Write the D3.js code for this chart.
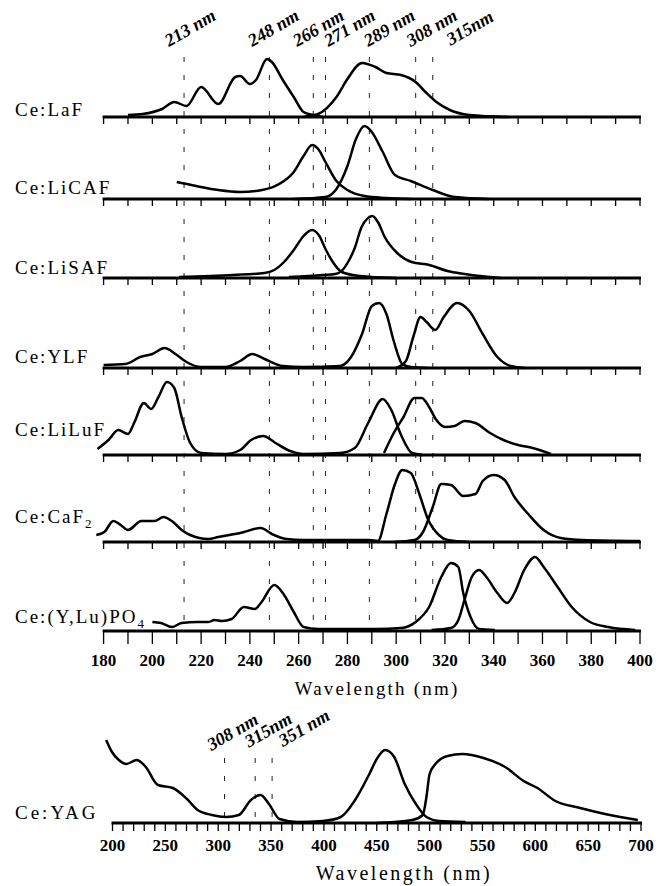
<!DOCTYPE html>
<html>
<head>
<meta charset="utf-8">
<script src="https://cdn.jsdelivr.net/npm/d3@7"></script>
<style>
  body { margin: 0; background: #fff; }
  text { font-family: "Liberation Serif", "Times New Roman", serif; fill: #000; }
</style>
</head>
<body>
<div id="chart"></div>
<script>
// ---- data: [wavelength nm, intensity a.u.] ----
const lafAbs = [[190,2],[196,3],[204,8],[209,15],[214,11],[220,30],[227,13],[234,40],[236,41],[240,33],[242.5,37],[247,58],[249,55],[253.5,37],[258,20],[262,5],[266,2],[270,0]];
const lafEm = [[262,0],[264,1],[268,3],[275.5,20],[280,38],[286,54],[291.5,50],[296,44],[302,42],[308,35],[312,25],[316.5,15],[322,7],[330,2],[346,0]];

const licafAbs = [[210,17],[218,13],[227,9],[236,7],[245,9],[252,15],[258,27],[262,43],[265.5,54],[268,50],[271,37],[275.5,18],[280,9],[287,3],[296,1],[306,0]];
const licafEm = [[258,0],[271,2],[275.5,10],[280,33],[283.5,60],[287,73],[290,67],[294.5,47],[299.5,24],[306,18],[315,9],[324,2],[338,0]];

const lisafAbs = [[211,1],[233,3],[246,5],[250,8],[254,16],[258,28],[262,42],[265.5,48],[268.5,42],[271,29],[274,16],[277.7,6],[285,2],[300,0]];
const lisafEm = [[256,1],[270,3],[275,4],[278,8],[280.5,17],[283,30],[285.8,51],[288,59],[290.2,62],[292.5,56],[295.3,41],[300.4,25],[306.3,16],[313.6,13],[321,7],[328,4],[343,0]];

const ylfAbs = [[180,3],[189,4],[195,11],[200,14],[205,20],[209.5,14],[214,6],[220,1],[230,1],[236,7],[241,14],[246,9],[253.5,2],[262,1],[277,2],[281.5,11],[286,34],[290,62],[293,65],[296,54],[299,27],[302.5,4],[306,1],[313,0]];
const ylfEm = [[300,0],[304,7],[307,31],[310,51],[312.5,46],[316,38],[319.5,51],[325,65],[330,57],[335.5,34],[341.5,11],[347,2],[353,0]];

const liluAbs = [[177.5,6],[182,15],[186,25],[190,21],[192.5,32],[196.5,52],[199.5,46],[202.5,58],[206,73],[209,67],[212,38],[215.5,12],[220,2],[230,1],[236,5],[240.5,15],[245.5,19],[250.5,12],[256.5,4],[262,1],[277,2],[283,7],[288.5,32],[294.5,56],[298,45],[302,20],[306.5,2],[311,0]];
const liluEm = [[295,2],[299,22],[303,38],[307.5,57],[310.5,57],[313.5,48],[316.5,35],[320,28],[324,29],[328,34],[332.5,32],[338.5,22],[344,15],[350,10],[356,7],[363.5,1]];

const caf2Abs = [[177,7],[180.3,10],[184,21],[187,17],[190,12],[195.5,21],[201,21],[204.5,25],[208,21],[212,12],[215.5,7],[223,3],[227,5],[236,9],[244.5,14],[249,8],[255,3],[262,2],[289,2],[292.5,1],[296,28],[299.5,58],[302.5,72],[306,69],[309.5,48],[313,23],[317.5,7],[321,2],[330,0]];
const caf2Em = [[299,0],[307.5,2],[311,10],[315,35],[318.5,58],[322.5,57],[327.5,46],[332.5,48],[335.5,61],[340,67],[344.5,62],[348.5,45],[354.5,27],[360.5,12],[367.5,4],[376.5,2],[400,1]];

const po4Abs = [[200,9],[203.5,8],[208,4],[212,8],[218.5,9],[223,9],[225.5,11],[228.5,10],[232.5,12],[237.5,24],[242,22],[244.5,28],[250,46],[253.5,38],[258,19],[262,4],[268,2],[291.5,2],[302,3],[308,9],[313.5,24],[318.5,54],[322.5,68],[325.5,64],[327.5,38],[330.5,14],[334,2],[340.5,1]];
const po4Em = [[314.5,1],[322.5,3],[325.5,11],[328,31],[331,54],[334,61],[337,54],[341.5,38],[345.5,28],[348.5,38],[352.5,61],[357,74],[360.5,64],[366.5,43],[372,24],[379.5,9],[387,4],[398,1]];

const yagAbs = [[194,83],[199.5,71],[206,63],[213,59],[223,63],[231.5,56],[243,38],[257,35],[270.5,24],[280.5,13],[294,8],[307.5,6],[319.5,8],[331,23],[340,28],[348,19],[358,4],[375,1],[399,2],[416,6],[429.5,23],[443,49],[450,64],[458,73],[466.5,66],[476.5,39],[487,19],[497,6],[509,2],[534,1]];
const yagEm = [[450,0],[483.5,3],[493.5,8],[497,26],[500,49],[505.5,59],[517,67],[531,69],[551,65],[571.5,56],[589,42],[602,35],[619,22],[642.5,15],[666,9],[697,3]];

const panelLabels = [["Ce:LaF"], ["Ce:LiCAF"], ["Ce:LiSAF"], ["Ce:YLF"], ["Ce:LiLuF"], ["Ce:CaF", "2"], ["Ce:(Y,Lu)PO", "4"]];
const laserLines = [213, 248, 266, 271, 289, 308, 315];
const laserLabels = ["213 nm", "248 nm", "266 nm", "271 nm", "289 nm", "308 nm", "315nm"];
const yagLines = [306, 335, 351];
const yagLabels = ["308 nm", "315nm", "351 nm"];
const topTicks = d3.range(180, 401, 20);
const yagTicks = d3.range(200, 701, 50);

const spectra = [
  { abs: lafAbs, em: lafEm },
  { abs: licafAbs, em: licafEm },
  { abs: lisafAbs, em: lisafEm },
  { abs: ylfAbs, em: ylfEm },
  { abs: liluAbs, em: liluEm },
  { abs: caf2Abs, em: caf2Em },
  { abs: po4Abs, em: po4Em },
];

// ---- layout ----
const width = 668, height = 886;
const panelBase = [117, 199, 278, 368, 455, 542, 631];
const labelDy = [-1, -5, -4, -5, -19, -19, -8];
const laserDx = [9, 7, 8, 27, 23, 19, 40];
const yagBase = 823;
const yagDx = [11, 16, 35];

const svg = d3.select("#chart").append("svg")
  .attr("width", width)
  .attr("height", height);

const x = d3.scaleLinear().domain([180, 400]).range([103.6, 640]);
const xYag = d3.scaleLinear().domain([200, 700]).range([112.5, 641]);
const y = d3.scaleLinear().domain([0, 80]).range([0, 80]);

function drawAxis(g, scale, base, step, tickLen) {
  const [d0, d1] = scale.domain();
  g.append("g")
    .selectAll("line")
    .data(d3.range(d0, d1 + 0.1, step))
    .join("line")
    .attr("x1", d => scale(d)).attr("x2", d => scale(d))
    .attr("y1", base).attr("y2", base + tickLen)
    .attr("stroke", "#000").attr("stroke-width", 1.3);
  g.append("line")
    .attr("x1", scale(d0) - 1).attr("x2", scale(d1) + 1)
    .attr("y1", base).attr("y2", base)
    .attr("stroke", "#000").attr("stroke-width", 3.2);
}

// dashed laser lines (behind curves)
svg.append("g")
  .selectAll("line")
  .data(laserLines)
  .join("line")
  .attr("x1", d => x(d)).attr("x2", d => x(d))
  .attr("y1", 57).attr("y2", panelBase[6])
  .attr("stroke", "#222").attr("stroke-width", 1)
  .attr("stroke-dasharray", "5,13");

svg.append("g")
  .selectAll("text")
  .data(laserLines)
  .join("text")
  .attr("transform", (d, i) => `translate(${x(d) + laserDx[i]},${33}) rotate(-30)`)
  .attr("text-anchor", "middle")
  .style("font-size", "18px")
  .style("font-weight", "bold")
  .style("font-style", "italic")
  .text((d, i) => laserLabels[i]);

spectra.forEach((s, i) => {
  const base = panelBase[i];
  const g = svg.append("g");
  const line = d3.line()
    .x(d => x(d[0]))
    .y(d => base - y(d[1]))
    .curve(d3.curveMonotoneX);

  drawAxis(g, x, base, 10, i === 6 ? 13 : 7);

  [s.abs, s.em].forEach(ser => {
    g.append("path")
      .attr("d", line(ser))
      .attr("fill", "none")
      .attr("stroke", "#000")
      .attr("stroke-width", 2.5)
      .attr("stroke-linejoin", "round");
  });

  const t = g.append("text")
    .attr("x", 15)
    .attr("y", base + labelDy[i])
    .style("font-size", "19px")
    .style("letter-spacing", "2px");
  t.append("tspan").text(panelLabels[i][0]);
  if (panelLabels[i][1]) {
    t.append("tspan")
      .attr("dy", 5)
      .style("font-size", "13px")
      .text(panelLabels[i][1]);
  }
});

svg.append("g")
  .selectAll("text")
  .data(topTicks)
  .join("text")
  .attr("x", d => x(d))
  .attr("y", 666)
  .attr("text-anchor", "middle")
  .style("font-size", "17px")
  .style("font-weight", "bold")
  .text(d => d);

svg.append("text")
  .attr("x", 377)
  .attr("y", 695)
  .attr("text-anchor", "middle")
  .style("font-size", "19px")
  .style("letter-spacing", "2.2px")
  .text("Wavelength (nm)");

// ---- Ce:YAG panel ----
const gy = svg.append("g");

gy.selectAll("line.laser")
  .data(yagLines)
  .join("line")
  .attr("class", "laser")
  .attr("x1", d => xYag(d)).attr("x2", d => xYag(d))
  .attr("y1", 758).attr("y2", yagBase)
  .attr("stroke", "#222").attr("stroke-width", 1)
  .attr("stroke-dasharray", "5,13");

gy.selectAll("text.laser")
  .data(yagLines)
  .join("text")
  .attr("class", "laser")
  .attr("transform", (d, i) => `translate(${xYag(d) + yagDx[i]},${737 - i * 2}) rotate(-30)`)
  .attr("text-anchor", "middle")
  .style("font-size", "18px")
  .style("font-weight", "bold")
  .style("font-style", "italic")
  .text((d, i) => yagLabels[i]);

drawAxis(gy, xYag, yagBase, 10, 8);

const yagLine = d3.line()
  .x(d => xYag(d[0]))
  .y(d => yagBase - y(d[1]))
  .curve(d3.curveMonotoneX);

[yagAbs, yagEm].forEach(ser => {
  gy.append("path")
    .attr("d", yagLine(ser))
    .attr("fill", "none")
    .attr("stroke", "#000")
    .attr("stroke-width", 2.5)
    .attr("stroke-linejoin", "round");
});

gy.append("text")
  .attr("x", 15)
  .attr("y", yagBase - 4)
  .style("font-size", "19px")
  .style("letter-spacing", "3px")
  .text("Ce:YAG");

gy.selectAll("text.tick")
  .data(yagTicks)
  .join("text")
  .attr("class", "tick")
  .attr("x", d => xYag(d))
  .attr("y", 851)
  .attr("text-anchor", "middle")
  .style("font-size", "17px")
  .style("font-weight", "bold")
  .text(d => d);

gy.append("text")
  .attr("x", 404)
  .attr("y", 880)
  .attr("text-anchor", "middle")
  .style("font-size", "20px")
  .style("letter-spacing", "2.5px")
  .text("Wavelength (nm)");
</script>
</body>
</html>
